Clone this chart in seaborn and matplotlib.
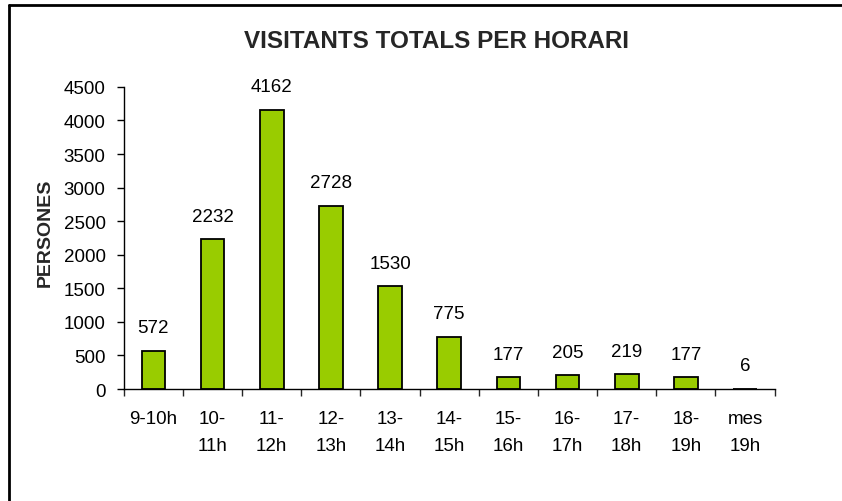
import matplotlib.pyplot as plt
import matplotlib.lines as mlines
import pandas as pd
import seaborn as sns

# data
horaris = ['9-10h', '10-\n11h', '11-\n12h', '12-\n13h', '13-\n14h', '14-\n15h',
           '15-\n16h', '16-\n17h', '17-\n18h', '18-\n19h', 'mes\n19h']
persones = [572, 2232, 4162, 2728, 1530, 775, 177, 205, 219, 177, 6]
yticks = [0, 500, 1000, 1500, 2000, 2500, 3000, 3500, 4000, 4500]

sns.set_style('white')
plt.rcParams['font.family'] = ['Liberation Sans', 'DejaVu Sans']
fs = 13.5

df = pd.DataFrame({'horari': horaris, 'persones': persones})

fig = plt.figure(figsize=(8.42, 5.02), dpi=100)
ax = fig.add_axes([0.147, 0.223, 0.773, 0.602])

sns.barplot(data=df, x='horari', y='persones', color='#99CC00', width=0.4,
            edgecolor='black', linewidth=1.3, saturation=1, ax=ax)

# value labels above bars
for i, v in enumerate(persones):
    ax.annotate(str(v), (i, v), xytext=(0, 10.5), textcoords='offset points',
                ha='center', va='bottom', fontsize=fs, color='black')

ax.set_xlim(-0.5, len(horaris) - 0.5)
ax.set_ylim(0, 4500)
ax.set_yticks(yticks)
ax.tick_params(axis='y', which='major', direction='out', length=5, width=1,
               labelsize=fs, left=True, pad=8, colors='black')
ax.tick_params(axis='x', which='major', length=0, labelsize=fs, pad=15,
               colors='black')
ax.set_xticks([i - 0.5 for i in range(len(horaris) + 1)], minor=True)
ax.tick_params(axis='x', which='minor', direction='out', length=5, width=1,
               bottom=True)
for lab in ax.get_xticklabels():
    lab.set_linespacing(1.75)
    lab.set_va('top')

ax.set_xlabel('')
ax.set_ylabel('PERSONES', fontsize=14, fontweight='bold')
ax.yaxis.label.set_va('center')
ax.yaxis.set_label_coords(-0.121, 0.52)
for s in ['top', 'right']:
    ax.spines[s].set_visible(False)
for s in ['left', 'bottom']:
    ax.spines[s].set_color('black')
    ax.spines[s].set_linewidth(1)

fig.text(0.519, 0.918, 'VISITANTS TOTALS PER HORARI', ha='center', va='center',
         fontsize=17.5, fontweight='bold')

# outer frame (only top and left visible in the original crop)
fig.add_artist(mlines.Line2D([9 / 842, 1], [1 - 6 / 502, 1 - 6 / 502],
                             transform=fig.transFigure, color='black', lw=2))
fig.add_artist(mlines.Line2D([9 / 842, 9 / 842], [0, 1 - 6 / 502],
                             transform=fig.transFigure, color='black', lw=2))

fig.savefig('out.png', dpi=100)
